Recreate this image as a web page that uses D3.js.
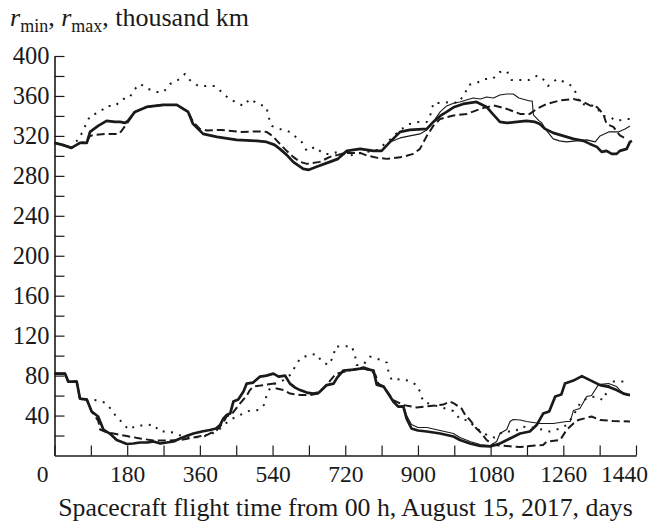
<!DOCTYPE html>
<html>
<head>
<meta charset="utf-8">
<script src="https://cdn.jsdelivr.net/npm/d3@7"></script>
<style>
  html, body { margin: 0; padding: 0; background: #fff; }
  svg { display: block; }
  text { font-family: "Liberation Serif", "Times New Roman", serif; fill: #1a1a1a; }
</style>
</head>
<body>
<svg id="chart" width="652" height="522"></svg>
<script>
// ---- Data (days, thousand km) ----
const xTickValues = [0, 90, 180, 270, 360, 450, 540, 630, 720, 810, 900, 990, 1080, 1170, 1260, 1350, 1440];
const xLabelValues = [0, 180, 360, 540, 720, 900, 1080, 1260, 1440];
const yTickValues = [20, 40, 60, 80, 100, 120, 140, 160, 180, 200, 220, 240, 260, 280, 300, 320, 340, 360, 380, 400];
const yLabelValues = [40, 80, 120, 160, 200, 240, 280, 320, 360, 400];

const rmaxThick = [[0,313],[20,311],[42,308],[63,313],[80,313],[88,324],[108,330],[129,335],[150,334],[162,334],[175,333],[182,335],[199,344],[228,349],[269,351],[303,351],[319,347],[331,344],[343,332],[368,322],[402,319],[451,316],[501,315],[525,314],[545,311],[558,307],[575,301],[591,294],[616,287],[630,286],[649,289],[682,294],[702,297],[707,299],[724,305],[757,307],[790,305],[810,305],[831,314],[856,324],[880,326],[922,327],[938,334],[955,340],[971,344],[990,349],[1012,352],[1045,354],[1070,349],[1085,342],[1103,334],[1120,333],[1145,334],[1169,335],[1190,334],[1202,332],[1215,327],[1235,323],[1260,320],[1285,317],[1310,315],[1326,312],[1343,309],[1355,304],[1367,305],[1380,302],[1392,302],[1400,305],[1417,307],[1425,314],[1430,315]];

const rmaxThin = [[0,313],[20,311],[42,308],[63,313],[80,313],[88,324],[108,330],[129,335],[150,334],[162,334],[175,333],[182,335],[199,344],[228,349],[269,351],[303,351],[319,347],[331,344],[343,332],[368,322],[402,319],[451,316],[501,315],[525,314],[545,311],[558,307],[575,301],[591,294],[616,287],[630,286],[649,289],[682,294],[702,297],[707,299],[724,305],[757,307],[790,305],[810,305],[831,314],[856,318],[880,320],[905,322],[922,326],[938,334],[955,344],[971,350],[990,353],[1004,354],[1020,356],[1037,358],[1055,357],[1070,359],[1087,358],[1103,361],[1120,362],[1136,362],[1150,358],[1177,355],[1183,355],[1186,341],[1200,335],[1207,333],[1215,327],[1235,317],[1250,315],[1268,314],[1293,315],[1318,316],[1339,314],[1351,320],[1372,324],[1396,324],[1413,327],[1425,330]];

const rmaxDashed = [[0,313],[20,311],[42,308],[63,313],[80,314],[88,320],[100,321],[130,322],[160,322],[166,325],[182,334],[199,344],[228,349],[269,351],[303,351],[319,347],[331,344],[343,334],[360,327],[377,325.5],[414,326],[459,324],[501,324.5],[525,324],[540,320],[550,315.5],[570,307],[591,299],[608,294],[625,292],[657,294],[682,299],[702,301],[720,303],[757,303],[773,300.5],[800,298],[823,297],[863,299],[888,302],[905,307],[922,320],[938,330],[955,337],[988,340.5],[1021,342],[1054,347],[1087,350.5],[1103,349],[1120,347],[1153,342],[1177,342],[1194,347],[1219,352],[1252,355.5],[1285,357],[1301,355.5],[1326,350.5],[1343,349],[1359,342],[1367,332],[1384,329],[1400,320.5],[1412,318]];

const rmaxDotted = [[0,313],[20,311],[42,308],[63,319],[88,340],[113,344],[129,350],[150,350],[170,357],[185,358],[199,367],[212,372],[232,367],[253,364],[270,364],[286,372],[303,375],[323,382],[335,376],[356,370],[377,370],[397,370],[414,364],[430,358],[447,354],[468,350],[484,357],[505,352],[525,349],[530,339],[538,330],[558,327],[583,324],[600,318],[612,314],[625,305],[645,309],[666,302],[685,302],[702,304],[728,300],[760,303],[800,306],[830,316],[856,326],[880,332],[901,334],[922,334],[934,344],[938,353],[960,353],[979,354],[1000,353],[1017,363],[1025,371],[1045,373],[1066,377],[1085,377],[1103,384],[1120,385],[1132,376],[1155,376],[1175,376],[1194,380],[1206,379],[1222,370],[1244,377],[1262,374],[1281,370],[1293,362],[1301,352],[1320,351],[1339,350],[1359,340],[1375,339],[1392,335],[1417,337],[1430,337]];

const rminThick = [[0,82],[26,82],[34,74],[55,74],[63,57],[80,56],[92,44],[108,39],[121,26],[137,22],[154,15.5],[170,13],[179,11.5],[195,12],[212,13],[230,13],[245,14],[262,12],[278,13],[295,14],[311,17],[330,20],[344,22],[365,24],[385,25.5],[400,27],[410,30.5],[418,37],[426,40.5],[435,42],[443,54],[455,56],[468,64],[476,72],[492,73],[509,79],[525,80],[542,82],[555,79],[571,80],[583,72],[596,68],[608,65.5],[625,63],[641,62],[655,63],[674,70.5],[691,72],[700,78],[715,85],[740,86],[757,87],[765,88],[780,86],[790,85],[798,71],[815,69],[823,64],[839,54],[851,49],[864,49],[872,37],[884,27],[900,25],[922,24],[955,22],[988,19],[1004,15.5],[1029,12],[1054,9.5],[1079,9],[1103,12],[1128,17],[1153,22],[1177,24],[1194,30.5],[1210,42],[1225,44],[1240,59],[1255,61],[1264,72],[1285,75],[1306,79.5],[1326,75.5],[1351,70.5],[1370,69],[1392,65.5],[1409,62],[1425,60.5]];

const rminThin = [[0,82],[26,82],[34,74],[55,74],[63,57],[80,56],[92,44],[108,39],[121,26],[137,22],[154,15.5],[170,13],[179,11.5],[195,12],[212,13],[230,13],[245,14],[262,12],[278,13],[295,14],[311,17],[330,20],[344,22],[365,24],[385,25.5],[400,27],[410,30.5],[418,37],[426,40.5],[435,42],[443,54],[455,56],[468,64],[476,72],[492,73],[509,79],[525,80],[542,82],[555,79],[571,80],[583,72],[596,68],[608,65.5],[625,63],[641,62],[655,63],[674,70.5],[691,72],[700,78],[715,85],[740,86],[757,87],[765,88],[780,86],[790,85],[798,71],[815,69],[823,64],[839,54],[851,49],[864,50],[872,40],[884,31],[900,28],[922,28],[955,25],[988,22],[1004,18],[1029,14],[1054,11],[1079,10],[1095,14],[1103,22],[1120,26],[1128,34],[1136,36],[1153,35.5],[1169,34],[1202,32],[1235,32],[1268,34],[1277,34],[1285,45],[1301,47],[1318,59],[1330,60],[1347,71],[1372,72],[1392,69],[1400,65.5],[1417,60.5],[1425,60]];

const rminDashed = [[0,82],[26,82],[34,74],[55,74],[63,57],[80,56],[92,44],[108,35],[113,26],[130,23],[146,22],[179,19.5],[212,17],[245,15],[278,15],[311,15.5],[344,18],[377,20.5],[402,25.5],[418,33],[426,39],[440,42],[459,52],[476,60],[484,65.5],[492,69],[510,70],[525,71],[545,72],[550,67],[567,65.5],[583,62],[608,60.5],[633,60.5],[653,62],[670,69],[691,79],[699,82],[720,84],[740,86],[765,87],[785,85],[795,80.5],[802,72],[815,69],[839,55.5],[864,50.5],[897,48],[930,49.5],[963,51],[979,54],[990,52],[1008,47],[1017,40.5],[1029,35.5],[1045,27],[1058,22],[1070,15.5],[1087,10.5],[1120,9.5],[1153,8.5],[1190,10],[1210,10.5],[1219,14],[1252,15.5],[1268,25.5],[1285,32],[1297,35.5],[1330,39],[1351,35.5],[1384,34.5],[1425,34]];

const rminDotted = [[0,82],[26,82],[34,74],[55,74],[63,57],[80,56],[100,55.5],[125,53],[142,45.5],[154,38],[166,34],[183,26],[204,30],[224,30],[245,31],[261,24],[286,24],[307,20.5],[335,18],[360,18.5],[385,20.5],[410,27],[434,35.5],[459,40.5],[484,45],[505,45.5],[521,51.5],[525,60.5],[538,70.5],[567,75.5],[583,80.5],[596,89],[608,97],[629,100.5],[649,101.5],[662,94],[678,90.5],[691,99],[695,109],[715,109.5],[736,109.5],[744,100.5],[748,90.5],[765,91],[781,99],[806,96],[823,93],[827,84],[835,75.5],[856,76.5],[876,75],[897,70.5],[905,64],[913,54],[934,51],[960,48],[988,44.5],[1004,36.5],[1025,35],[1045,27],[1058,24],[1074,19.5],[1090,18],[1111,24],[1140,24],[1157,29],[1182,28],[1207,26],[1226,24],[1252,27],[1268,30.5],[1285,40],[1301,52],[1320,58],[1339,59],[1359,55.5],[1368,64],[1376,74],[1400,74],[1420,74]];

// ---- Chart ----
const svg = d3.select("#chart");
svg.append("rect").attr("width", 652).attr("height", 522).attr("fill", "#fff");

const x = d3.scaleLinear().domain([0, 1440]).range([54.5, 636]);
const y = d3.scaleLinear().domain([0, 400]).range([455.5, 56]);

const ink = "#1a1a1a";
const fontFamily = '"Liberation Serif", "Times New Roman", serif';
const line = d3.line().x(d => x(d[0])).y(d => y(d[1]));

const styles = {
  dotted: { w: 2.0, dash: "2,6.5" },
  dashed: { w: 2.0, dash: "8,4" },
  thin:   { w: 1.1, dash: null },
  thick:  { w: 2.7, dash: null }
};
const series = [
  [rmaxDotted, "dotted"], [rminDotted, "dotted"],
  [rmaxDashed, "dashed"], [rminDashed, "dashed"],
  [rmaxThin, "thin"], [rminThin, "thin"],
  [rmaxThick, "thick"], [rminThick, "thick"]
];
const g = svg.append("g");
series.forEach(([data, kind]) => {
  const st = styles[kind];
  g.append("path")
    .datum(data)
    .attr("d", line)
    .attr("fill", "none")
    .attr("stroke", ink)
    .attr("stroke-width", st.w)
    .attr("stroke-linejoin", "round")
    .attr("stroke-dasharray", st.dash);
});

// Y axis
const yAxis = d3.axisLeft(y)
  .tickValues(yTickValues)
  .tickSize(-10)
  .tickSizeOuter(0)
  .tickPadding(5)
  .tickFormat(d => yLabelValues.includes(d) ? d : "");
const gy = svg.append("g").attr("transform", "translate(54.5,0)").call(yAxis);
gy.select(".domain").attr("stroke", ink).attr("stroke-width", 1.6);
gy.selectAll(".tick line").attr("stroke", ink).attr("stroke-width", 1.2);
gy.selectAll(".tick text").attr("font-size", 24.5).attr("fill", ink)
  .style("font-family", fontFamily);

// X axis
const xAxis = d3.axisBottom(x)
  .tickValues(xTickValues)
  .tickSize(-10)
  .tickSizeOuter(0)
  .tickPadding(10)
  .tickFormat(d => xLabelValues.includes(d) ? d : "");
const gx = svg.append("g").attr("transform", "translate(0,455.5)").call(xAxis);
gx.select(".domain").attr("stroke", ink).attr("stroke-width", 1.6);
gx.selectAll(".tick line").attr("stroke", ink).attr("stroke-width", 1.2);
gx.selectAll(".tick text").attr("font-size", 23.5).attr("fill", ink)
  .style("font-family", fontFamily)
  .attr("dx", d => d === 0 ? -12.5 : (d === 1440 ? -12 : 0));

// Y title
const title = svg.append("text").attr("x", 10).attr("y", 26).attr("font-size", 26);
title.append("tspan").attr("font-style", "italic").text("r");
title.append("tspan").attr("font-size", 18).attr("dy", 6).text("min");
title.append("tspan").attr("dy", -6).text(", ");
title.append("tspan").attr("font-style", "italic").text("r");
title.append("tspan").attr("font-size", 18).attr("dy", 6).text("max");
title.append("tspan").attr("dy", -6).text(", thousand km");

// X title
svg.append("text")
  .attr("x", 345.5).attr("y", 516)
  .attr("text-anchor", "middle")
  .attr("font-size", 25.8)
  .text("Spacecraft flight time from 00 h, August 15, 2017, days");
</script>
</body>
</html>
